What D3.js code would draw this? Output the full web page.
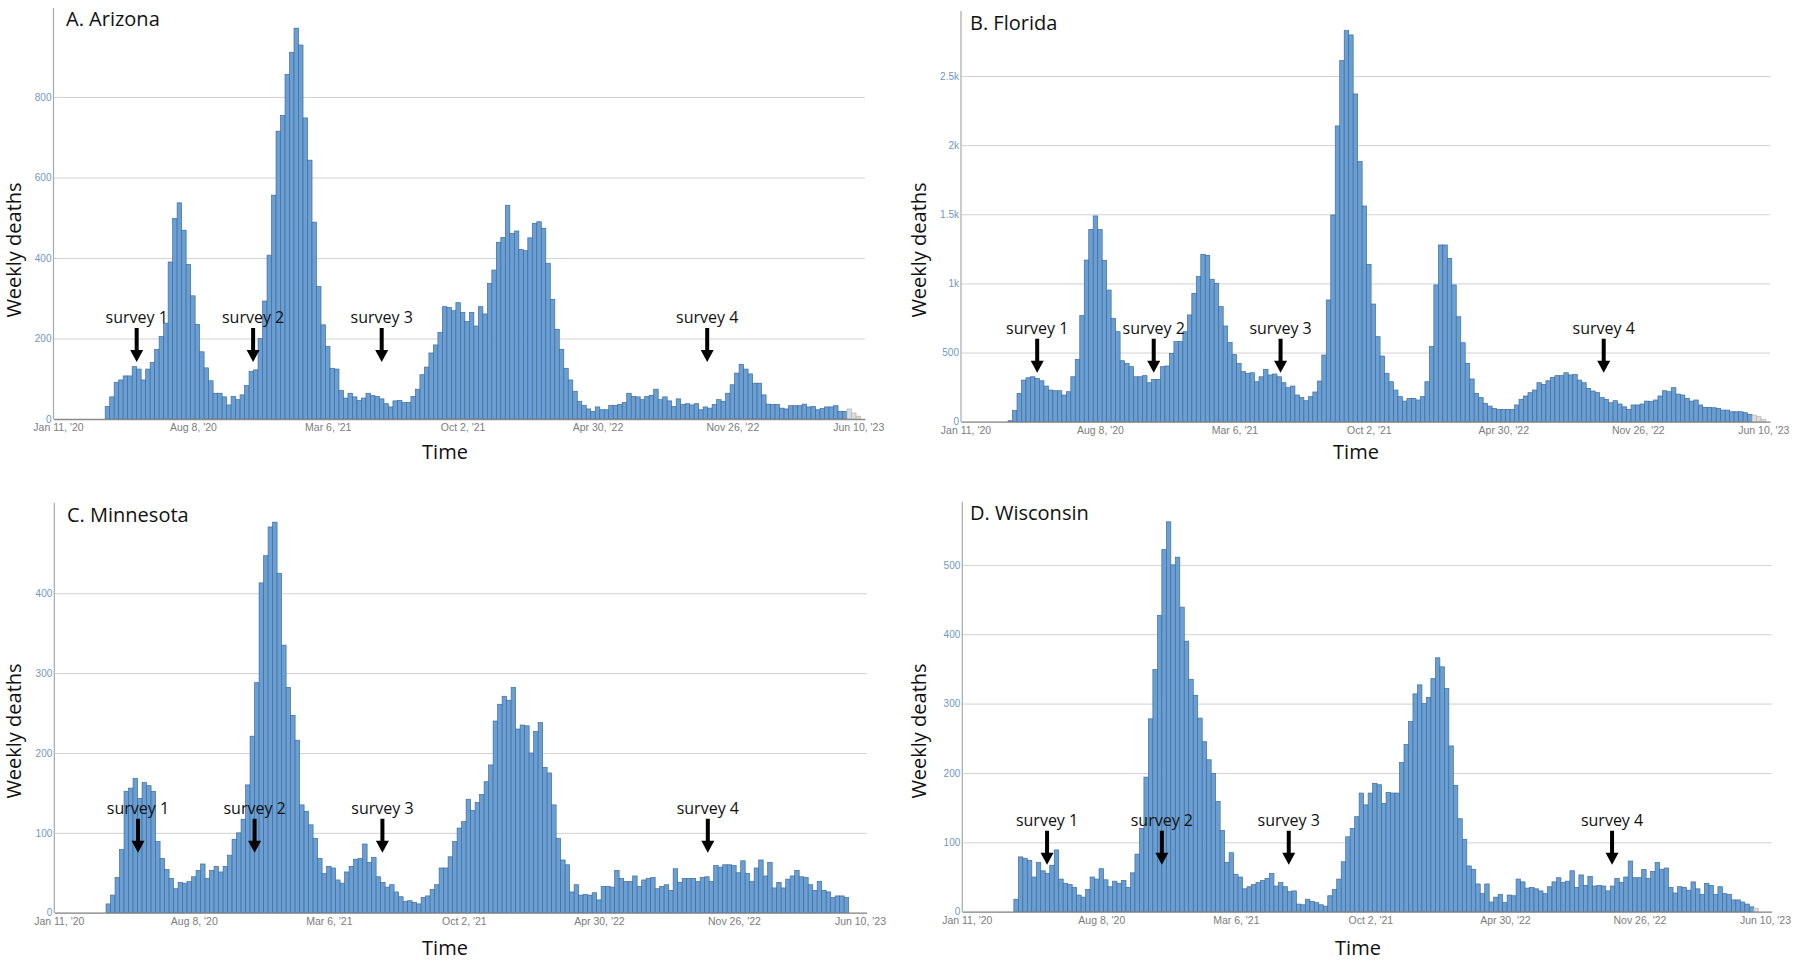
<!DOCTYPE html>
<html><head><meta charset="utf-8">
<script src="https://cdn.jsdelivr.net/npm/d3@7"></script>
<style>
html,body{margin:0;padding:0;background:#fff;}
svg{display:block;}
</style></head><body>
<svg id="chart" width="1800" height="962"></svg>
<script>
// ---------- DATA ----------
const tickWeeks = [0, 30, 60, 90, 120, 150, 178];
const tickLabels = ["Jan 11, '20", "Aug 8, '20", "Mar 6, '21", "Oct 2, '21", "Apr 30, '22", "Nov 26, '22", "Jun 10, '23"];
const panelTitles = ["A. Arizona", "B. Florida", "C. Minnesota", "D. Wisconsin"];
const surveyLabels = ["survey 1", "survey 2", "survey 3", "survey 4"];
const yAxisTitle = "Weekly deaths";
const xAxisTitle = "Time";

// weekly deaths, week 0 = Jan 11 '20 ... week 178 = Jun 10 '23
const arizona = [
  0,0,0,0,0,0,0,0,0,0,
  0,31,55,91,97,107,107,130,124,97,
  124,140,173,205,238,390,498,537,469,384,
  306,235,167,127,95,64,64,55,35,56,
  48,60,83,118,122,200,293,407,556,715,
  754,856,911,971,929,748,643,489,329,234,
  180,126,124,71,52,64,55,46,52,64,
  58,56,50,38,30,45,46,41,41,56,
  74,110,129,164,184,215,279,277,269,289,
  265,242,265,231,279,261,337,370,439,451,
  531,461,467,421,418,450,486,490,474,387,
  297,223,173,126,97,69,44,34,25,19,
  30,23,23,34,34,36,41,64,56,55,
  48,56,59,74,48,55,45,31,50,36,
  38,35,38,23,30,27,36,48,44,64,
  85,114,136,124,112,89,89,60,37,36,
  36,27,25,33,33,33,37,30,31,23,
  26,30,30,33,19,19,25,15,7
];
const florida = [
  0,0,0,0,0,0,0,0,0,0,
  7,80,205,301,318,325,313,296,258,229,
  224,224,193,217,325,451,767,1169,1391,1488,
  1391,1165,952,747,651,441,422,398,325,325,
  333,282,306,306,398,403,494,579,579,651,
  772,928,1049,1210,1203,1030,1001,832,692,574,
  487,422,362,350,354,289,325,379,338,345,
  325,282,246,258,193,174,152,181,215,294,
  482,880,1495,2139,2611,2828,2797,2370,1881,1560,
  1138,851,615,475,350,289,229,181,149,169,
  169,157,181,289,543,989,1278,1278,1181,989,
  759,571,422,309,205,174,133,113,96,89,
  89,89,89,121,162,186,210,229,282,270,
  296,321,333,333,354,338,342,301,282,241,
  222,210,174,162,137,152,128,108,89,121,
  121,128,149,145,157,186,224,217,246,200,
  193,169,149,157,121,104,104,101,96,84,
  84,72,72,72,65,53,48,36,17
];
const minnesota = [
  0,0,0,0,0,0,0,0,0,0,
  0,11,22,44,79,152,156,168,143,163,
  159,152,89,68,54,43,30,38,37,39,
  45,53,61,43,53,58,51,58,72,92,
  100,117,160,221,288,413,447,483,489,425,
  335,282,247,216,135,127,110,93,68,49,
  58,56,41,37,51,58,67,68,86,63,
  69,45,38,32,35,26,20,14,15,13,
  11,19,21,29,35,56,56,70,89,106,
  114,142,128,138,148,164,185,240,261,271,
  266,282,230,235,234,200,227,238,182,175,
  135,93,66,60,26,35,22,23,22,25,
  16,33,33,32,53,43,39,39,46,33,
  41,43,44,30,33,35,28,55,38,43,
  43,43,39,44,45,39,59,57,60,60,
  59,50,65,49,39,56,66,46,63,31,
  38,31,42,46,53,45,44,35,28,39,
  28,26,19,21,21,19,0,0,0
];
const wisconsin = [
  0,0,0,0,0,0,0,0,0,0,
  0,18,79,77,74,50,71,59,55,67,
  89,47,41,39,35,24,21,32,50,47,
  62,46,36,44,41,45,35,56,83,120,
  194,278,349,427,522,562,500,511,439,390,
  335,312,279,245,219,199,159,117,71,85,
  54,50,33,36,39,42,45,48,55,37,
  42,36,29,30,11,10,18,15,13,10,
  8,23,32,47,72,108,120,137,171,154,
  171,185,183,156,172,171,171,215,241,274,
  314,327,300,309,336,366,353,322,239,182,
  134,104,66,61,40,26,40,14,21,25,
  13,24,23,47,43,34,35,33,30,26,
  36,43,49,42,44,59,35,53,38,51,
  37,38,37,30,37,48,42,50,73,49,
  49,61,48,58,71,61,63,35,27,36,
  35,31,43,33,25,41,38,25,36,26,
  25,17,17,14,11,7,5,0,0
];
// first week of incomplete (grey) data per state
const provisionalFromAZ = 176, provisionalFromFL = 176, provisionalFromMN = null, provisionalFromWI = 176;

// survey timing (week index)
const surveyWeeksAZ = [17.5, 43.4, 72, 144.4];
const surveyWeeksFL = [16, 42, 70.3, 142.4];
const surveyWeeksMN = [17.6, 43.5, 71.9, 144.2];
const surveyWeeksWI = [17.9, 43.5, 71.8, 143.9];

// y ticks
const yTicksAZ = [0, 200, 400, 600, 800];
const yTicksFL = [0, 500, 1000, 1500, 2000, 2500];
const yTickLabelsFL = ["0", "500", "1k", "1.5k", "2k", "2.5k"];
const yTicksMN = [0, 100, 200, 300, 400];
const yTicksWI = [0, 100, 200, 300, 400, 500];

// ---------- LAYOUT ----------
const panels = [
  {title: panelTitles[0], values: arizona, prov: provisionalFromAZ, surveys: surveyWeeksAZ,
   yTicks: yTicksAZ, yLabels: yTicksAZ.map(String), yMax: 1021,
   left: 53.5, right: 865, top: 8, bottom: 419,
   titleX: 66, titleY: 26, yLabX: 21, yLabY: 250, timeX: 445, timeY: 459, arrowTip: 57},
  {title: panelTitles[1], values: florida, prov: provisionalFromFL, surveys: surveyWeeksFL,
   yTicks: yTicksFL, yLabels: yTickLabelsFL, yMax: 2970,
   left: 961, right: 1770, top: 11, bottom: 421.7,
   titleX: 970, titleY: 30, yLabX: 926, yLabY: 250, timeX: 1356, timeY: 459, arrowTip: 49},
  {title: panelTitles[2], values: minnesota, prov: provisionalFromMN, surveys: surveyWeeksMN,
   yTicks: yTicksMN, yLabels: yTicksMN.map(String), yMax: 513,
   left: 54.3, right: 866.7, top: 503, bottom: 912.7,
   titleX: 67, titleY: 522, yLabX: 21, yLabY: 731, timeX: 445, timeY: 955, arrowTip: 60},
  {title: panelTitles[3], values: wisconsin, prov: provisionalFromWI, surveys: surveyWeeksWI,
   yTicks: yTicksWI, yLabels: yTicksWI.map(String), yMax: 591,
   left: 962.3, right: 1771.7, top: 501.7, bottom: 911.7,
   titleX: 970, titleY: 520, yLabX: 926, yLabY: 731, timeX: 1358, timeY: 955, arrowTip: 47}
];

const svg = d3.select("#chart");
const labelFont = "'Open Sans', 'DejaVu Sans', sans-serif";
const tickFont = "'Liberation Sans', Arial, sans-serif";

panels.forEach(p => {
  const g = svg.append("g");
  const x = d3.scaleLinear().domain([-1, 179.5]).range([p.left, p.right]);
  const y = d3.scaleLinear().domain([0, p.yMax]).range([p.bottom, p.top]);

  // gridlines + y tick labels
  const yAxis = d3.axisLeft(y).tickValues(p.yTicks)
    .tickFormat((d, i) => p.yLabels[i])
    .tickSizeInner(-(p.right - p.left)).tickSizeOuter(0).tickPadding(2);
  const ya = g.append("g").attr("transform", `translate(${p.left},0)`).call(yAxis);
  ya.select(".domain").remove();
  ya.selectAll(".tick line").attr("stroke", "#d2d2d2").attr("stroke-width", 1);
  ya.selectAll(".tick text").attr("fill", "#7097c2")
    .style("font-family", tickFont).style("font-size", "10px");

  // bars
  const bw = x(1) - x(0);
  const rows = p.values.map((v, i) => ({v, i})).filter(d => d.v > 0);
  g.append("g").selectAll("rect").data(rows).join("rect")
    .attr("x", d => x(d.i) - bw / 2)
    .attr("width", bw)
    .attr("y", d => y(d.v))
    .attr("height", d => y(0) - y(d.v))
    .attr("fill", d => (p.prov != null && d.i >= p.prov) ? "#dcdcdc" : "#6b9fd3")
    .attr("stroke", d => (p.prov != null && d.i >= p.prov) ? "#b4b4b4" : "#3e6d9c")
    .attr("stroke-width", 0.7);

  // y axis line
  g.append("line").attr("x1", p.left).attr("x2", p.left)
    .attr("y1", p.top).attr("y2", p.bottom)
    .attr("stroke", "#a8a8a8").attr("stroke-width", 1.2);

  // x axis
  const xAxis = d3.axisBottom(x).tickValues(tickWeeks)
    .tickFormat((d, i) => tickLabels[i])
    .tickSizeInner(0).tickSizeOuter(0).tickPadding(5);
  const xa = g.append("g").attr("transform", `translate(0,${p.bottom})`).call(xAxis);
  xa.select(".domain").attr("stroke", "#8a8a8a").attr("stroke-width", 1.3);
  xa.selectAll(".tick text").attr("fill", "#7c7c7c")
    .style("font-family", tickFont).style("font-size", "10.5px");

  // panel title
  g.append("text").attr("x", p.titleX).attr("y", p.titleY)
    .style("font-family", labelFont).style("font-size", "20px").attr("fill", "#111")
    .text(p.title);

  // axis titles
  g.append("text").attr("transform", `translate(${p.yLabX},${p.yLabY}) rotate(-90)`)
    .attr("text-anchor", "middle")
    .style("font-family", labelFont).style("font-size", "20px").attr("fill", "#111")
    .text(yAxisTitle);
  g.append("text").attr("x", p.timeX).attr("y", p.timeY)
    .attr("text-anchor", "middle")
    .style("font-family", labelFont).style("font-size", "20px").attr("fill", "#111")
    .text(xAxisTitle);

  // survey annotations
  const ann = g.append("g");
  p.surveys.forEach((s, k) => {
    const ax = x(s);
    const tip = p.bottom - p.arrowTip;
    const top = tip - 34;
    const headLen = 12, headW = 6.5, shaft = 2;
    ann.append("path")
      .attr("d", `M${ax - shaft},${top} L${ax + shaft},${top} L${ax + shaft},${tip - headLen} L${ax + headW},${tip - headLen} L${ax},${tip} L${ax - headW},${tip - headLen} L${ax - shaft},${tip - headLen} Z`)
      .attr("fill", "#000");
    ann.append("text").attr("x", ax).attr("y", top - 5)
      .attr("text-anchor", "middle")
      .style("font-family", labelFont).style("font-size", "16px").attr("fill", "#111")
      .text(surveyLabels[k]);
  });
});
</script>
</body></html>
